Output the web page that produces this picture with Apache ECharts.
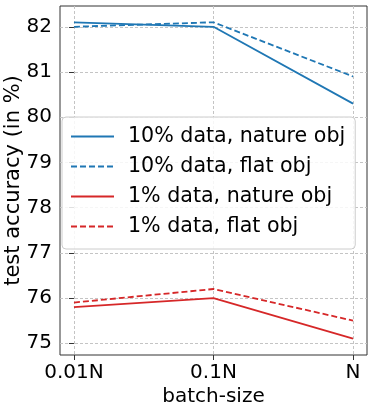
<!DOCTYPE html>
<html>
<head>
<meta charset="utf-8">
<script src="https://cdn.jsdelivr.net/npm/echarts@6/dist/echarts.min.js"></script>
<style>
  html, body { margin: 0; padding: 0; background: #fff; }
  #chart { width: 374px; height: 411px; }
</style>
</head>
<body>
<div id="chart"></div>
<script>
// batch sizes on the x axis
const categories = ['0.01N', '0.1N', 'N'];
const yTicks = [75, 76, 77, 78, 79, 80, 81, 82];

// test accuracy (%) per batch size
const tenNature = [82.1, 82.0, 80.3];
const tenFlat = [82.0, 82.1, 80.9];
const oneNature = [75.8, 76.0, 75.1];
const oneFlat = [75.9, 76.2, 75.5];

const BLUE = '#1f77b4';
const RED = '#d62728';
const FONT = 'DejaVu Sans';

const chart = echarts.init(document.getElementById('chart'));

function makeSeries(name, values, color, dashed) {
  return {
    name: name,
    type: 'line',
    data: values.map((v, i) => [i, v]),
    symbol: 'none',
    color: color,
    lineStyle: { color: color, width: 1.8, type: dashed ? [6, 3] : 'solid' }
  };
}

const option = {
  animation: false,
  textStyle: { fontFamily: FONT },
  grid: {
    left: 60, right: 7, top: 6, bottom: 56,
    containLabel: false,
    outerBoundsMode: 'none',
    show: true, borderColor: '#333', borderWidth: 1
  },
  xAxis: {
    type: 'value',
    min: -0.1,
    max: 2.1,
    name: 'batch-size',
    nameLocation: 'middle',
    nameGap: 32,
    nameMoveOverlap: false,
    nameTextStyle: { fontSize: 20, color: '#000', fontFamily: FONT },
    axisLine: { show: false },
    axisTick: { show: true, inside: false, length: 5, lineStyle: { color: '#333' }, customValues: [0, 1, 2] },
    axisLabel: {
      fontSize: 20, color: '#000', fontFamily: FONT, margin: 8,
      customValues: [0, 1, 2],
      formatter: v => categories[Math.round(v)]
    },
    splitLine: { show: true, lineStyle: { color: '#c4c4c4', type: [3, 2], width: 1 } }
  },
  yAxis: {
    type: 'value',
    min: 74.74,
    max: 82.46,
    name: 'test accuracy (in %)',
    nameLocation: 'middle',
    nameGap: 36,
    nameMoveOverlap: false,
    nameTextStyle: { fontSize: 21, color: '#000', fontFamily: FONT },
    axisLine: { show: false },
    axisTick: { show: true, inside: false, length: 5, lineStyle: { color: '#333' }, customValues: yTicks },
    axisLabel: { fontSize: 20, color: '#000', fontFamily: FONT, margin: 8, customValues: yTicks },
    splitLine: { show: true, lineStyle: { color: '#c4c4c4', type: [3, 2], width: 1 } }
  },
  legend: {
    orient: 'vertical',
    left: 62,
    top: 117,
    itemWidth: 43,
    itemHeight: 20,
    itemGap: 9,
    padding: [9, 10, 12, 8],
    backgroundColor: 'rgba(255,255,255,0.85)',
    borderColor: '#ccc',
    borderWidth: 1,
    borderRadius: 4,
    itemStyle: { opacity: 0 },
    textStyle: { fontSize: 20.6, color: '#000', fontFamily: FONT, padding: [0, 0, 0, 9] },
    data: ['10% data, nature obj', '10% data, flat obj', '1% data, nature obj', '1% data, flat obj']
  },
  series: [
    makeSeries('10% data, nature obj', tenNature, BLUE, false),
    makeSeries('10% data, flat obj', tenFlat, BLUE, true),
    makeSeries('1% data, nature obj', oneNature, RED, false),
    makeSeries('1% data, flat obj', oneFlat, RED, true)
  ]
};

chart.setOption(option);
</script>
</body>
</html>
